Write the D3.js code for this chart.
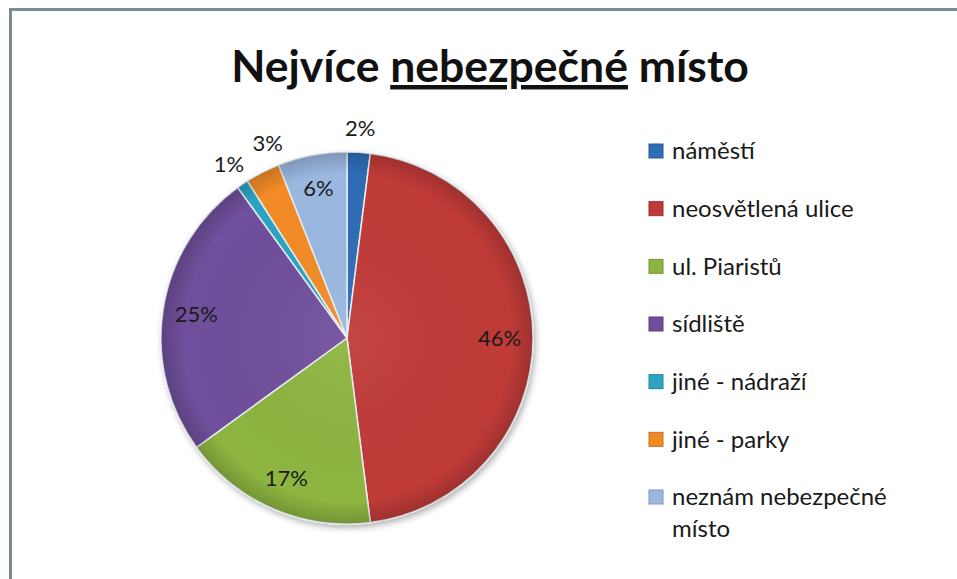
<!DOCTYPE html>
<html>
<head>
<meta charset="utf-8">
<script src="https://cdn.jsdelivr.net/npm/d3@7"></script>
<style>
  body { margin: 0; background: #fff; }
  svg { display: block; font-family: Lato, 'Open Sans', sans-serif; }
</style>
</head>
<body>
<div id="chart"></div>
<script>
// data
const categories = ['náměstí', 'neosvětlená ulice', 'ul. Piaristů', 'sídliště', 'jiné - nádraží', 'jiné - parky', 'neznám nebezpečné místo']
const shares = [2, 46, 17, 25, 1, 3, 6]
const colors = ['#2f6db5', '#c03a38', '#8db540', '#6f4f9c', '#2ba4c4', '#f38b25', '#9ab8e0']
const outsideLabels = ['náměstí', 'jiné - nádraží', 'jiné - parky']

const width = 957
const height = 579
const cx = 347, cy = 338, r = 186

const svg = d3.select('#chart')
            .append('svg')
            .attr('width', width)
            .attr('height', height)

const defs = svg.append('defs')
const shade = defs.append('radialGradient')
    .attr('id', 'shade')
    .attr('gradientUnits', 'userSpaceOnUse')
    .attr('cx', cx).attr('cy', cy).attr('r', r)
shade.append('stop').attr('offset', '0%').attr('stop-color', '#fff').attr('stop-opacity', 0.06)
shade.append('stop').attr('offset', '88%').attr('stop-color', '#000').attr('stop-opacity', 0.0)
shade.append('stop').attr('offset', '100%').attr('stop-color', '#000').attr('stop-opacity', 0.18)

const shadow = defs.append('filter').attr('id', 'shadow').attr('x', '-20%').attr('y', '-20%').attr('width', '140%').attr('height', '140%')
shadow.append('feDropShadow').attr('dx', 2).attr('dy', 3).attr('stdDeviation', 3).attr('flood-opacity', 0.3)

// frame
svg.append('line').attr('x1', 9).attr('x2', width).attr('y1', 9.5).attr('y2', 9.5)
    .attr('stroke', '#7b8b91').attr('stroke-width', 3)
svg.append('line').attr('x1', 10.5).attr('x2', 10.5).attr('y1', 8).attr('y2', height)
    .attr('stroke', '#7b8b91').attr('stroke-width', 3)

// title
const title = svg.append('text')
    .attr('x', 490)
    .attr('y', 82)
    .attr('text-anchor', 'middle')
    .style('font', 'bold 44.5px Lato, sans-serif')
    .attr('fill', '#111')
title.append('tspan').text('Nejvíce ')
title.append('tspan').attr('text-decoration', 'underline').text('nebezpečné')
title.append('tspan').text(' místo')

const pie = d3.pie().sort(null).value(d => d)
const arcs = pie(shares)
const arc = d3.arc().innerRadius(0).outerRadius(r)
const inR = r * 0.82, outR = r * 1.13

// label angles: small slices get their label outside, nudged apart when crowded
const labelPos = arcs.map((d, i) => {
    const outside = outsideLabels.includes(categories[i])
    return { outside, angle: (d.startAngle + d.endAngle) / 2, radius: outside ? outR : inR }
})
const minGap = 12 * Math.PI / 180
let prev = null
labelPos.forEach(p => {
    if (!p.outside) return
    if (prev && p.angle - prev.angle < minGap && p.angle - prev.angle > 0) p.angle = prev.angle + minGap
    prev = p
})

const g = svg.append('g').attr('transform', `translate(${cx},${cy})`)

const slices = g.append('g').attr('filter', 'url(#shadow)')
slices.selectAll('path')
    .data(arcs)
    .enter()
    .append('path')
    .attr('d', arc)
    .attr('fill', (_, i) => colors[i])
    .attr('stroke', '#e8eef4')
    .attr('stroke-width', 1.5)
    .attr('stroke-linejoin', 'round')

g.append('circle')
    .attr('cx', 0).attr('cy', 0).attr('r', r)
    .attr('fill', 'url(#shade)')
    .attr('transform', `translate(${-cx},${-cy})`)
    .attr('cx', cx).attr('cy', cy)

g.selectAll('text.pct')
    .data(arcs)
    .enter()
    .append('text')
    .attr('class', 'pct')
    .attr('transform', (d, i) => {
        const p = labelPos[i]
        return `translate(${Math.sin(p.angle) * p.radius},${-Math.cos(p.angle) * p.radius})`
    })
    .attr('text-anchor', 'middle')
    .attr('dy', '0.35em')
    .style('font', 'normal 22px Lato, sans-serif')
    .attr('fill', '#1a1a1a')
    .text(d => d.data + '%')

// legend
const legendY = d3.scalePoint().domain(categories).range([151, 497])
const legend = svg.append('g')
const item = legend.selectAll('g')
    .data(categories)
    .enter()
    .append('g')
    .attr('transform', d => `translate(649,${legendY(d)})`)

item.append('rect')
    .attr('x', 0)
    .attr('y', -7)
    .attr('width', 14)
    .attr('height', 14)
    .attr('fill', (_, i) => colors[i])
    .attr('stroke', (_, i) => d3.color(colors[i]).darker(0.6))
    .attr('stroke-width', 1)

item.append('text')
    .attr('x', 23)
    .attr('y', 0)
    .attr('dy', '0.35em')
    .style('font', 'normal 24px Lato, sans-serif')
    .attr('fill', '#1a1a1a')
    .each(function (d) {
        const t = d3.select(this)
        if (d === 'neznám nebezpečné místo') {
            t.append('tspan').attr('x', 23).text('neznám nebezpečné')
            t.append('tspan').attr('x', 23).attr('dy', '1.3em').text('místo')
        } else {
            t.text(d)
        }
    })
</script>
</body>
</html>
